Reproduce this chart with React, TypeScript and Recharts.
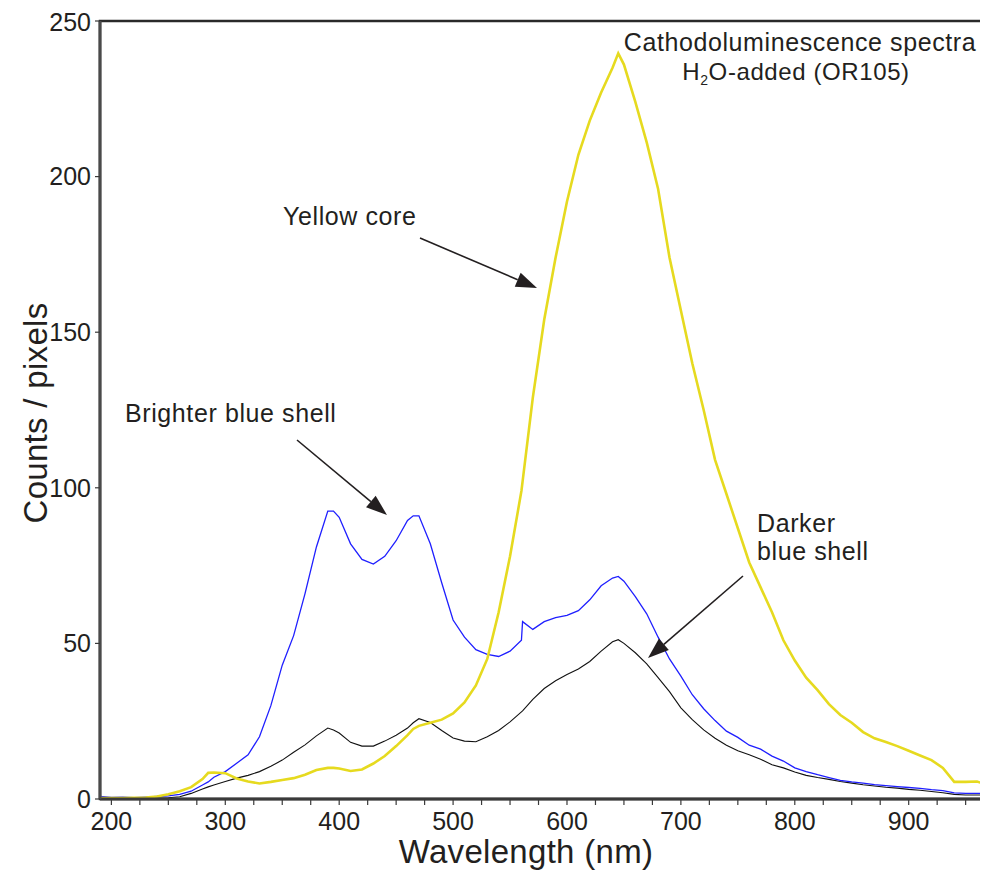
import React from "react";
import {
  LineChart,
  Line,
  XAxis,
  YAxis,
  ReferenceArea,
} from "recharts";

// wavelength grid (nm)
const wavelengths = [
  190, 200, 210, 220, 230, 240, 250, 260, 270, 280, 285,
  290, 300, 310, 320, 330, 340, 350, 360, 370, 380, 390, 395,
  400, 410, 420, 430, 440, 450, 460, 465,
  470, 480, 490, 500, 510, 520, 530, 540, 550, 560, 561,
  570, 580, 590, 600, 610, 620, 630, 640, 645,
  650, 660, 670, 680, 690, 700, 710, 720, 730, 740, 750, 760, 770, 780, 790,
  800, 810, 820, 830, 840, 850, 860, 870, 880, 890, 900, 910, 920, 930, 940,
  950, 960, 967,
];

// counts / pixels
const yellowCore = [
  0.3, 0.3, 0.3, 0.4, 0.5, 0.8, 1.5, 2.5, 3.8, 6.4, 8.4,
  8.5, 8.3, 6.6, 5.6, 5.0, 5.5, 6.1, 6.7, 7.8, 9.3, 10.0, 10.0,
  9.8, 9.0, 9.5, 11.4, 13.8, 17.0, 20.5, 22.5,
  23.5, 24.5, 25.5, 27.5, 31, 36.5, 45, 60, 78, 99, 102,
  129, 154, 174, 192, 207, 218, 227, 235, 239.6,
  236, 224, 211, 196, 174, 157, 140, 125, 109, 98, 87, 76, 68, 60, 51,
  44.5, 39, 35, 30.5, 27, 24.5, 21.5, 19.5, 18.3, 17, 15.5, 14, 12.5, 10, 5.5,
  5.5, 5.6, 4.8,
];

const brighterBlue = [
  0.8, 0.5, 0.6, 0.4, 0.6, 0.8, 1.0, 1.5, 2.5, 4.5, 5.5,
  7, 8.8, 11.5, 14.2, 20, 30, 43, 52.5, 66, 81, 92.5, 92.5,
  90.5, 82, 77, 75.5, 78, 83, 89.5, 91,
  91, 82, 69.5, 57.5, 52, 48, 46.5, 45.8, 47.5, 51, 57,
  54.5, 57, 58.3, 59, 60.5, 64, 68.5, 71, 71.5,
  70, 65, 59.5, 52, 45, 39.5, 33.5, 29, 25.2, 21.8, 19.8, 17.3, 16, 13.8, 12.2,
  10, 8.8, 7.8, 6.9, 6, 5.5, 5.1, 4.6, 4.3, 4.0, 3.7, 3.4, 3.0, 2.7, 2.0,
  1.8, 1.8, 1.8,
];

const darkerBlue = [
  0.3, 0.3, 0.2, 0.3, 0.3, 0.3, 0.4, 0.7, 1.8, 3.2, 3.9,
  4.5, 5.6, 6.7, 7.6, 8.8, 10.5, 12.5, 15, 17.4, 20.3, 22.8, 22.2,
  21.2, 18.2, 17, 17, 18.6, 20.5, 22.8, 24.5,
  25.8, 24.6, 22, 19.6, 18.6, 18.4, 20, 22, 24.8, 28, 28.3,
  32, 35.5, 38, 40, 41.8, 44.2, 47.5, 50.5, 51.2,
  50, 47, 43.4, 39, 34.5, 29.3, 25.5, 22.2, 19.5, 17.3, 15.5, 14.2, 12.8, 11, 10,
  8.7, 7.6, 6.9, 6.3, 5.6, 5.1, 4.6, 4.2, 3.8, 3.5, 3.1, 2.8, 2.4, 2.0, 1.5,
  1.3, 1.3, 1.3,
];

const xTicks = [
  200, 225, 250, 275, 300, 325, 350, 375, 400, 425, 450, 475, 500, 525, 550,
  575, 600, 625, 650, 675, 700, 725, 750, 775, 800, 825, 850, 875, 900, 925, 950,
];
const yTicks = [0, 50, 100, 150, 200, 250];

const rows = wavelengths.map((wl, i) => ({
  wl,
  yellow: yellowCore[i],
  bright: brighterBlue[i],
  dark: darkerBlue[i],
}));

const FONT = "'Liberation Sans', Arial, Helvetica, sans-serif";
const TEXT = "#231f20";

function Arrow({ x1, y1, x2, y2 }: { x1: number; y1: number; x2: number; y2: number }) {
  const ang = Math.atan2(y2 - y1, x2 - x1);
  const len = 21;
  const half = 7.5;
  const bx = x2 - len * Math.cos(ang);
  const by = y2 - len * Math.sin(ang);
  const px = -Math.sin(ang) * half;
  const py = Math.cos(ang) * half;
  return (
    <g>
      <line x1={x1} y1={y1} x2={bx} y2={by} stroke={TEXT} strokeWidth={1.6} />
      <polygon
        points={`${x2},${y2} ${bx + px},${by + py} ${bx - px},${by - py}`}
        fill={TEXT}
      />
    </g>
  );
}

export default function App() {
  return (
    <div style={{ position: "relative", width: 980, height: 868, fontFamily: FONT }}>
      <LineChart
        width={980}
        height={868}
        data={rows}
        margin={{ top: 13, right: 3, left: 0, bottom: 0 }}
      >
        <XAxis
          dataKey="wl"
          type="number"
          domain={[190, 967]}
          ticks={xTicks}
          allowDataOverflow
          interval={0}
          height={77}
          tickSize={6}
          tickMargin={7}
          tickFormatter={(v: number) => (v % 100 === 0 ? String(v) : "")}
          tick={{ fill: TEXT, fontSize: 25, fontFamily: FONT }}
          axisLine={{ stroke: "#3a3a3a", strokeWidth: 3 }}
          tickLine={{ stroke: "#3a3a3a", strokeWidth: 1.2 }}
        />
        <YAxis
          type="number"
          domain={[0, 250]}
          ticks={yTicks}
          allowDataOverflow
          width={92}
          tickSize={5}
          tickMargin={4}
          tick={{ fill: TEXT, fontSize: 25, fontFamily: FONT }}
          axisLine={{ stroke: "#4a4a4a", strokeWidth: 3 }}
          tickLine={{ stroke: "#3a3a3a", strokeWidth: 1.2 }}
        />
        <ReferenceArea
          x1={190}
          x2={967}
          y1={0}
          y2={250}
          fill="none"
          fillOpacity={0}
          stroke="#2a2a2a"
          strokeWidth={2.5}
        />
        <Line
          dataKey="dark"
          type="linear"
          stroke="#111111"
          strokeWidth={1.1}
          dot={false}
          isAnimationActive={false}
        />
        <Line
          dataKey="bright"
          type="linear"
          stroke="#1f1fff"
          strokeWidth={1.3}
          dot={false}
          isAnimationActive={false}
        />
        <Line
          dataKey="yellow"
          type="linear"
          stroke="#e6da1f"
          strokeWidth={2.6}
          dot={false}
          isAnimationActive={false}
        />
      </LineChart>

      <svg
        width={980}
        height={868}
        style={{ position: "absolute", left: 0, top: 0, pointerEvents: "none" }}
        fontFamily={FONT}
        fill={TEXT}
        letterSpacing={0.6}
      >
        <text x={792} y={43} fontSize={25} textAnchor="middle">
          Cathodoluminescence spectra
        </text>
        <text x={788} y={72} fontSize={24} textAnchor="middle">
          <tspan>H</tspan>
          <tspan fontSize={14} dy={5}>2</tspan>
          <tspan dy={-5}>O-added (OR105)</tspan>
        </text>

        <text x={275} y={217} fontSize={25}>Yellow core</text>
        <Arrow x1={412} y1={230} x2={529} y2={280} />

        <text x={117} y={414} fontSize={25}>Brighter blue shell</text>
        <Arrow x1={289} y1={432} x2={379} y2={507} />

        <text x={749} y={524} fontSize={25}>Darker</text>
        <text x={749} y={552} fontSize={25}>blue shell</text>
        <Arrow x1={735} y1={568} x2={640} y2={650} />

        <text x={518} y={855} fontSize={33} textAnchor="middle" letterSpacing={0.3}>
          Wavelength (nm)
        </text>
        <text
          x={0}
          y={0}
          fontSize={33}
          textAnchor="middle"
          letterSpacing={0.3}
          transform="translate(39 405) rotate(-90)"
        >
          Counts / pixels
        </text>
      </svg>
    </div>
  );
}
